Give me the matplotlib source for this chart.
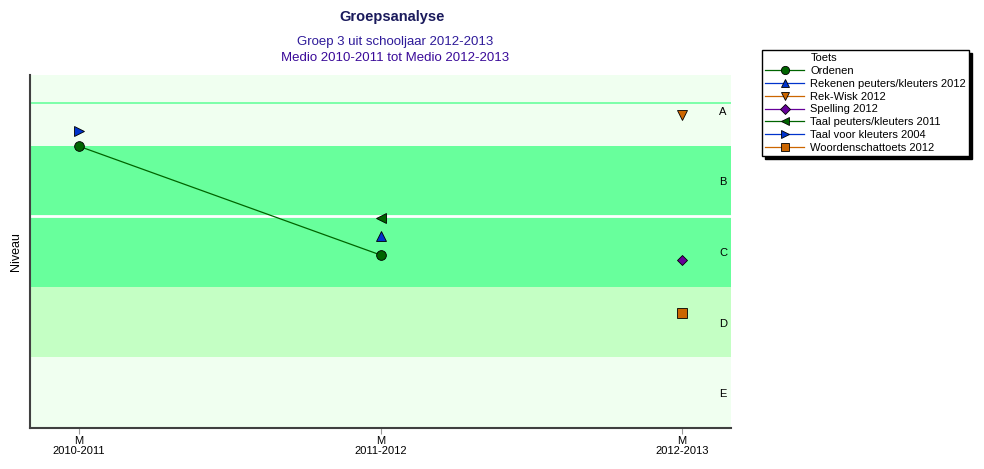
import matplotlib.pyplot as plt
import numpy as np

plt.rcParams["font.family"] = ["Liberation Sans", "DejaVu Sans"]

# groepsanalyse: niveau per toets per meetmoment
momenten = ["M\n2010-2011", "M\n2011-2012", "M\n2012-2013"]
niveaus = ["E", "D", "C", "B", "A"]

ordenen_x = [0, 1]
ordenen_y = [3.99, 2.45]
rekenen_pk_x = [1]
rekenen_pk_y = [2.72]
rekwisk_x = [2]
rekwisk_y = [4.43]
spelling_x = [2]
spelling_y = [2.38]
taal_pk_x = [1]
taal_pk_y = [2.98]
taal_vk_x = [0]
taal_vk_y = [4.21]
woorden_x = [2]
woorden_y = [1.63]

band_kleuren = ["#F0FFF0", "#C4FFC4", "#68FF9C", "#68FF9C", "#F0FFF0"]

fig = plt.figure(figsize=(9.84, 4.69), dpi=100)
ax = fig.add_axes([30/984, 41/469, 701/984, 353/469])

for i, k in enumerate(band_kleuren):
    ax.axhspan(i, i + 1, color=k, lw=0, zorder=0)
ax.axhline(3.0, color="white", lw=2, zorder=1)
ax.axhline(4.61, color="#68FF9C", lw=1.2, zorder=1)

for i, n in enumerate(niveaus):
    ax.text(0.9886, i + 0.48, n, transform=ax.get_yaxis_transform(),
            ha="center", va="center", fontsize=8)

mk = dict(ms=7, mec="black", mew=0.6, zorder=3)
ax.plot(ordenen_x, ordenen_y, "-o", color="#006400", mfc="#006400", lw=0.9, label="Ordenen", **mk)
ax.plot(rekenen_pk_x, rekenen_pk_y, "-^", color="#0033CC", mfc="#0033CC", lw=0.9, label="Rekenen peuters/kleuters 2012", **mk)
ax.plot(rekwisk_x, rekwisk_y, "-v", color="#CC6600", mfc="#CC6600", lw=0.9, label="Rek-Wisk 2012", **mk)
ax.plot(spelling_x, spelling_y, "-D", color="#660099", mfc="#660099", lw=0.9, label="Spelling 2012",
        ms=5.5, mec="black", mew=0.6, zorder=3)
ax.plot(taal_pk_x, taal_pk_y, "-<", color="#006400", mfc="#006400", lw=0.9, label="Taal peuters/kleuters 2011", **mk)
ax.plot(taal_vk_x, taal_vk_y, "->", color="#0033CC", mfc="#0033CC", lw=0.9, label="Taal voor kleuters 2004", **mk)
ax.plot(woorden_x, woorden_y, "-s", color="#CC6600", mfc="#CC6600", lw=0.9, label="Woordenschattoets 2012",
        ms=6.5, mec="black", mew=0.6, zorder=3)

ax.set_xlim(-0.163, 2.162)
ax.set_ylim(0, 5)
ax.set_xticks(range(len(momenten)))
ax.set_xticklabels(momenten, fontsize=8, linespacing=0.95,
                   family=["Liberation Sans Narrow", "Liberation Sans", "DejaVu Sans"])
ax.set_yticks([])
ax.tick_params(axis="x", length=4, color="#999999", pad=2)
for s in ["top", "right"]:
    ax.spines[s].set_visible(False)
for s in ["left", "bottom"]:
    ax.spines[s].set_color("#404040")
    ax.spines[s].set_linewidth(1.5)
ax.set_ylabel("Niveau", fontsize=9, labelpad=6)

fig.text(392/984, 1 - 17/469, "Groepsanalyse", ha="center", va="center",
         fontsize=10.5, fontweight="bold", color="#1A1A5C")
fig.text(395/984, 1 - 42/469, "Groep 3 uit schooljaar 2012-2013", ha="center", va="center",
         fontsize=9.5, color="#2E1A99")
fig.text(395/984, 1 - 58/469, "Medio 2010-2011 tot Medio 2012-2013", ha="center", va="center",
         fontsize=9.5, color="#3A0A99")

handles, labels = ax.get_legend_handles_labels()
leeg = plt.Line2D([], [], ls="none", marker=None)
leg = fig.legend([leeg] + handles, ["Toets"] + labels,
                 loc="upper left", bbox_to_anchor=(762/984, 1 - 50/469),
                 fontsize=8, frameon=True, fancybox=False,
                 edgecolor="black", framealpha=1, handlelength=3.5,
                 labelspacing=0.25, borderpad=0.3, handletextpad=0.55,
                 borderaxespad=0, markerscale=0.85,
                 shadow={"color": "black", "alpha": 1})
leg.get_frame().set_linewidth(1.0)

fig.savefig("out.png", dpi=100)
